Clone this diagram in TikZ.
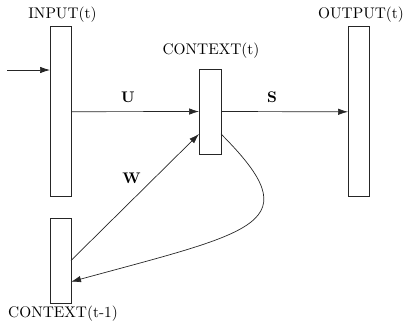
\documentclass[tikz,border=0pt]{standalone}
\usetikzlibrary{arrows.meta}
\begin{document}
\begin{tikzpicture}[x=0.65pt,y=-0.65pt,
  layer/.style={draw=black!85,fill=white,line width=0.5pt,inner sep=0pt,outer sep=0pt,minimum width=13.65pt},
  conn/.style={draw=black!85,line width=0.45pt,-{Latex[length=6.5pt,width=4.2pt]}},
  lbl/.style={inner sep=0pt,font=\normalsize}]
\useasboundingbox (0,0) rectangle (405,322);
\node[layer,minimum height=110.5pt] (in) at (60.5,111.7) {};
\node[layer,minimum height=55.25pt] (prev) at (60.5,260.5) {};
\node[layer,minimum height=55.25pt,minimum width=14.3pt] (ctx) at (210,111.5) {};
\node[layer,minimum height=110.5pt] (out) at (358.5,111.8) {};
\node[lbl] (lin) at (62.5,15) {INPUT(t)};
\node[lbl] (lctx) at (211,51) {CONTEXT(t)};
\node[lbl] (lout) at (361,15) {OUTPUT(t)};
\node[lbl] (lprev) at (63,314) {CONTEXT(t-1)};
\node[lbl] (lU) at (128,97) {\textbf{U}};
\node[lbl] (lS) at (272,97) {\textbf{S}};
\node[lbl] (lW) at (131.5,178) {\textbf{W}};
\coordinate (src) at (7,70);
\draw[conn] (src) -- (src -| in.west);
\draw[conn] (in.east) -- (ctx.west);
\draw[conn] (ctx.east) -- (out.west);
\draw[conn] (prev.east) -- ([yshift=-14.6pt]ctx.west);
\draw[conn] ([yshift=-14.6pt]ctx.east) .. controls (311,224) and (257,231) .. ([yshift=-13.8pt]prev.east);
\end{tikzpicture}
\end{document}
